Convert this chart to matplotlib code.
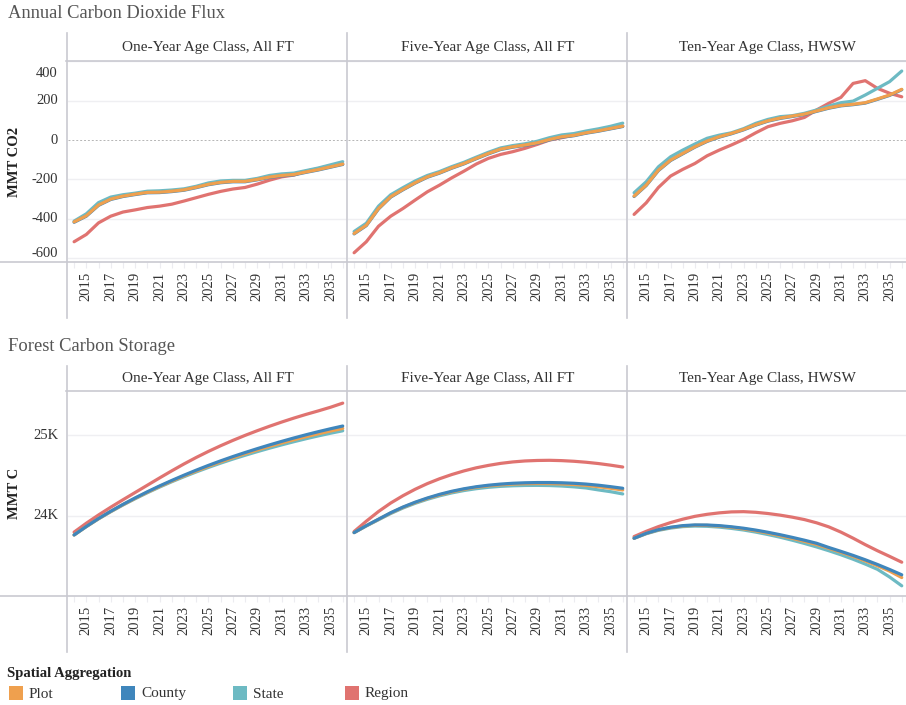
import matplotlib
matplotlib.use("Agg")
import matplotlib.pyplot as plt
from matplotlib.lines import Line2D
from matplotlib.patches import Rectangle
from matplotlib.transforms import offset_copy

plt.rcParams['font.family'] = ['Liberation Serif', 'DejaVu Serif']

years = list(range(2014, 2037))
panels = ["One-Year Age Class, All FT", "Five-Year Age Class, All FT", "Ten-Year Age Class, HWSW"]
series_names = ["Plot", "County", "State", "Region"]
colors = {"Plot": "#EFA04E", "County": "#3F86BC", "State": "#6DBAC3", "Region": "#E07370"}

# ---- Annual Carbon Dioxide Flux (MMT CO2) ----
flux_one_plot = [-416, -385, -330, -300, -285, -275, -266, -265, -260, -253, -240, -225, -215, -210, -210, -200, -188, -180, -175, -162, -150, -136, -122]
flux_one_county = [-418, -387, -332, -302, -287, -277, -268, -267, -262, -255, -242, -227, -217, -212, -212, -202, -190, -182, -177, -164, -152, -138, -124]
flux_one_state = [-412, -375, -318, -290, -278, -270, -260, -258, -254, -248, -235, -218, -208, -205, -205, -195, -180, -172, -168, -155, -142, -126, -110]
flux_one_region = [-517, -480, -421, -387, -366, -355, -343, -336, -326, -310, -293, -276, -261, -249, -241, -224, -204, -187, -178, -158, -145, -130, -122]

flux_five_plot = [-475, -433, -348, -288, -251, -217, -187, -166, -141, -119, -93, -68, -46, -34, -25, -14, 3, 17, 24, 37, 47, 59, 71]
flux_five_county = [-477, -435, -350, -290, -253, -219, -189, -168, -143, -121, -95, -70, -48, -36, -27, -16, 1, 15, 22, 35, 45, 57, 69]
flux_five_state = [-465, -423, -336, -278, -242, -208, -180, -160, -135, -113, -87, -62, -40, -28, -19, -6, 12, 26, 33, 46, 57, 70, 86]
flux_five_region = [-573, -517, -438, -387, -348, -305, -263, -229, -192, -158, -122, -93, -73, -59, -42, -22, 0, 12, 25, 37, 51, 59, 71]

flux_ten_plot = [-285, -229, -153, -102, -68, -34, -5, 17, 34, 54, 78, 98, 112, 122, 132, 148, 164, 176, 182, 190, 209, 229, 258]
flux_ten_county = [-287, -231, -155, -104, -70, -36, -7, 15, 32, 52, 76, 96, 110, 120, 130, 146, 162, 174, 180, 188, 207, 227, 256]
flux_ten_state = [-268, -212, -136, -85, -51, -20, 9, 25, 37, 58, 85, 105, 119, 124, 136, 153, 173, 190, 198, 229, 263, 297, 351]
flux_ten_region = [-378, -319, -241, -183, -149, -119, -80, -51, -25, 3, 37, 68, 85, 98, 115, 153, 187, 217, 288, 302, 263, 238, 220]

# ---- Forest Carbon Storage (MMT C) ----
stor_one_plot = [23765, 23869, 23966, 24055, 24139, 24218, 24293, 24364, 24431, 24495, 24555, 24613, 24668, 24720, 24769, 24816, 24860, 24902, 24942, 24980, 25016, 25050, 25082]
stor_one_county = [23765, 23870, 23968, 24058, 24143, 24223, 24299, 24371, 24439, 24504, 24566, 24625, 24681, 24734, 24784, 24832, 24878, 24922, 24964, 25004, 25042, 25078, 25112]
stor_one_state = [23765, 23868, 23964, 24052, 24135, 24213, 24287, 24357, 24423, 24485, 24544, 24600, 24653, 24703, 24750, 24795, 24838, 24879, 24918, 24955, 24990, 25023, 25053]
stor_one_region = [23800, 23910, 24012, 24108, 24200, 24290, 24380, 24470, 24558, 24643, 24723, 24798, 24868, 24934, 24996, 25054, 25109, 25161, 25210, 25256, 25299, 25344, 25395]

stor_five_plot = [23794, 23879, 23958, 24037, 24106, 24165, 24216, 24260, 24298, 24329, 24354, 24372, 24385, 24394, 24399, 24401, 24400, 24396, 24389, 24378, 24362, 24342, 24321]
stor_five_county = [23794, 23880, 23960, 24040, 24110, 24170, 24222, 24267, 24305, 24336, 24361, 24380, 24394, 24404, 24410, 24413, 24413, 24410, 24404, 24394, 24380, 24362, 24342]
stor_five_state = [23794, 23876, 23953, 24030, 24098, 24156, 24206, 24249, 24285, 24314, 24337, 24354, 24366, 24373, 24377, 24378, 24376, 24370, 24360, 24346, 24322, 24300, 24272]
stor_five_region = [23807, 23935, 24055, 24160, 24250, 24330, 24400, 24460, 24512, 24557, 24595, 24625, 24650, 24668, 24680, 24686, 24688, 24684, 24676, 24664, 24648, 24628, 24605]

stor_ten_plot = [23724, 23784, 23828, 23857, 23876, 23884, 23883, 23874, 23859, 23840, 23816, 23788, 23757, 23723, 23686, 23647, 23600, 23551, 23500, 23444, 23384, 23318, 23238]
stor_ten_county = [23724, 23785, 23830, 23860, 23880, 23889, 23888, 23880, 23866, 23848, 23825, 23798, 23768, 23735, 23700, 23662, 23610, 23562, 23512, 23458, 23400, 23338, 23272]
stor_ten_state = [23724, 23780, 23822, 23850, 23868, 23875, 23872, 23862, 23846, 23826, 23800, 23770, 23737, 23700, 23660, 23617, 23570, 23520, 23465, 23405, 23340, 23245, 23136]
stor_ten_region = [23745, 23810, 23868, 23918, 23960, 23995, 24020, 24038, 24050, 24053, 24045, 24030, 24010, 23985, 23955, 23915, 23865, 23800, 23725, 23645, 23570, 23500, 23428]

flux_data = [
    {"Plot": flux_one_plot, "County": flux_one_county, "State": flux_one_state, "Region": flux_one_region},
    {"Plot": flux_five_plot, "County": flux_five_county, "State": flux_five_state, "Region": flux_five_region},
    {"Plot": flux_ten_plot, "County": flux_ten_county, "State": flux_ten_state, "Region": flux_ten_region},
]
stor_data = [
    {"Plot": stor_one_plot, "County": stor_one_county, "State": stor_one_state, "Region": stor_one_region},
    {"Plot": stor_five_plot, "County": stor_five_county, "State": stor_five_state, "Region": stor_five_region},
    {"Plot": stor_ten_plot, "County": stor_ten_county, "State": stor_ten_state, "Region": stor_ten_region},
]

flux_ticks = [-600, -400, -200, 0, 200, 400]
stor_ticks = [24000, 25000]
stor_tick_labels = ["24K", "25K"]
year_ticks = list(range(2015, 2037, 2))

W, H = 906, 705
fig = plt.figure(figsize=(W / 100, H / 100), dpi=100)

BORDER = "#c9c9d1"
GRID = "#efeff2"
TXT = "#333333"


def rect(x0, y0, x1, y1):
    return [x0 / W, 1 - y1 / H, (x1 - x0) / W, (y1 - y0) / H]


def hline(y, x0, x1, color=BORDER, lw=1.2):
    fig.add_artist(Line2D([x0 / W, x1 / W], [1 - y / H, 1 - y / H], color=color, lw=lw, transform=fig.transFigure))


def vline(x, y0, y1, color=BORDER, lw=1.2):
    fig.add_artist(Line2D([x / W, x / W], [1 - y0 / H, 1 - y1 / H], color=color, lw=lw, transform=fig.transFigure))


px_cols = [(68, 347), (348, 627), (628, 906)]


def section(title, title_y, head_top, top, bottom, label_bottom, data, ylim, yticks, ytl, ylabel, zorders,
            zero_line, edge_fit):
    fig.text(8 / W, 1 - title_y / H, title, fontsize=13.3, color="#555555", va="center", ha="left")
    # header band
    for (x0, x1), name in zip(px_cols, panels):
        fig.text(((x0 + x1) / 2) / W, 1 - ((head_top + top) / 2) / H, name, fontsize=11, color=TXT,
                 ha="center", va="center")
    hline(top, 66, 906)
    hline(bottom, 0, 906)
    for x in [67, 347, 627]:
        vline(x, head_top, label_bottom)
    fig.text(15 / W, 1 - ((top + bottom) / 2) / H, ylabel, fontsize=10.5, fontweight="bold",
             color="#222222", rotation=90, ha="center", va="center")
    axes = []
    for i, (x0, x1) in enumerate(px_cols):
        ax = fig.add_axes(rect(x0, top, x1, bottom))
        ax.set_facecolor("none")
        for s in ax.spines.values():
            s.set_visible(False)
        d = data[i]
        for name in series_names:
            ax.plot(years, d[name], color=colors[name], lw=2.3, zorder=zorders[name],
                    solid_capstyle="round", solid_joinstyle="round")
        ax.set_xlim(2013.5, 2036.35)
        ax.set_ylim(*ylim)
        ax.set_yticks(yticks)
        for t in yticks:
            if zero_line and t == 0:
                ax.axhline(0, color="#b5b5b5", lw=0.7, ls=(0, (2, 2)), zorder=1)
            else:
                ax.axhline(t, color=GRID, lw=1.0, zorder=1)
        ax.set_xticks(year_ticks)
        ax.set_xticks(years, minor=True)
        ax.set_xticklabels([str(y) for y in year_ticks], rotation=90, fontsize=10.5, color=TXT)
        ax.tick_params(axis="x", which="both", length=4, color="#ececf0", width=0.8, pad=3)
        ax.set_yticklabels([])
        ax.tick_params(axis="y", length=0)
        if i == 0:
            ytr = ax.get_yaxis_transform()
            n = len(yticks)
            for k, (t, lab) in enumerate(zip(yticks, ytl)):
                dy = 0
                va = "center"
                if edge_fit and k == n - 1:
                    dy, va = -6, "top"
                elif edge_fit and k == 0:
                    dy = 5
                tr = offset_copy(ytr, fig=fig, x=-10, y=dy, units="dots")
                ax.text(0, t, lab, transform=tr, ha="right", va=va, fontsize=10.5, color=TXT)
        axes.append(ax)
    return axes


z_top = {"Region": 2, "State": 3, "County": 4, "Plot": 5}
z_bot = {"Region": 2, "State": 3, "Plot": 4, "County": 5}

section("Annual Carbon Dioxide Flux", 14, 33, 61, 262, 318, flux_data, (-620, 402),
        flux_ticks, [str(t) for t in flux_ticks], "MMT CO2", z_top, True, True)

section("Forest Carbon Storage", 347, 366, 391, 596, 652, stor_data, (23010, 25545),
        stor_ticks, stor_tick_labels, "MMT C", z_bot, False, False)

# legend
fig.text(7 / W, 1 - 673 / H, "Spatial Aggregation", fontsize=10.5, fontweight="bold", color="#222222",
         ha="left", va="center")
leg_x = [9, 121, 233, 345]
for x, name in zip(leg_x, series_names):
    fig.add_artist(Rectangle((x / W, 1 - 700 / H), 14 / W, 14 / H, facecolor=colors[name],
                             edgecolor="none", transform=fig.transFigure))
    fig.text((x + 20) / W, 1 - 694 / H, name, fontsize=11, color=TXT, ha="left", va="center")

fig.savefig("out.png", dpi=100)
